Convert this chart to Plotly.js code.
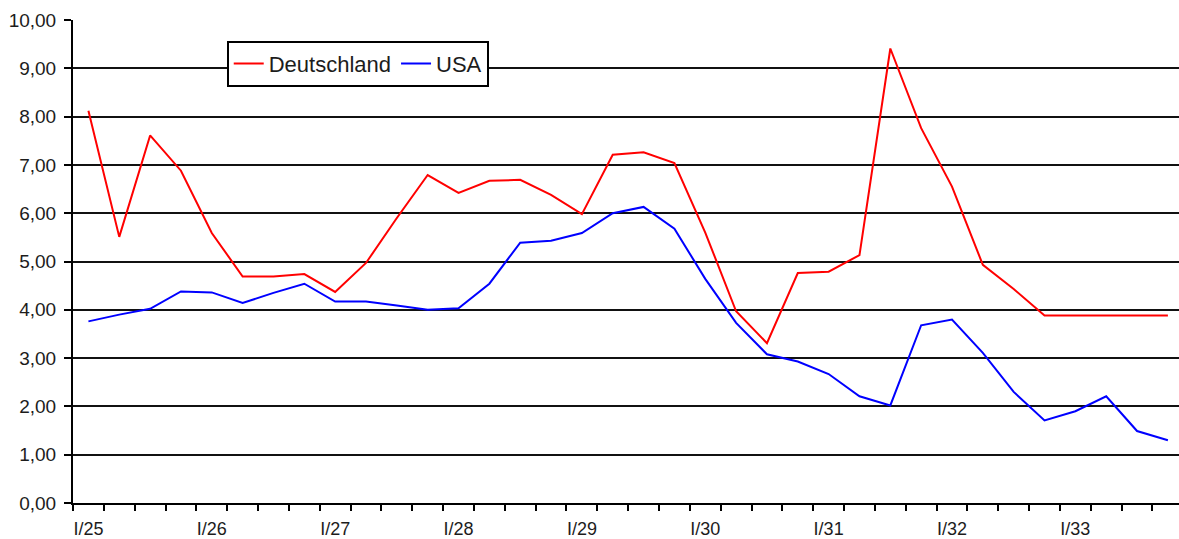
<!DOCTYPE html>
<html>
<head>
<meta charset="utf-8">
<script src="https://cdn.plot.ly/plotly-3.0.1.min.js"></script>
<style>
html,body{margin:0;padding:0;background:#fff;overflow:hidden;}
#chart{width:1179px;height:539px;}
</style>
</head>
<body>
<div id="chart"></div>
<script>
const quarters = [
  "I/25","II/25","III/25","IV/25",
  "I/26","II/26","III/26","IV/26",
  "I/27","II/27","III/27","IV/27",
  "I/28","II/28","III/28","IV/28",
  "I/29","II/29","III/29","IV/29",
  "I/30","II/30","III/30","IV/30",
  "I/31","II/31","III/31","IV/31",
  "I/32","II/32","III/32","IV/32",
  "I/33","II/33","III/33","IV/33"
];
const deutschland = [8.12, 5.51, 7.61, 6.88, 5.59, 4.69, 4.69, 4.74, 4.37, 4.97, 5.90, 6.79,
                     6.42, 6.67, 6.69, 6.38, 5.98, 7.21, 7.26, 7.04, 5.60, 3.97, 3.31, 4.76,
                     4.79, 5.13, 9.41, 7.76, 6.55, 4.93, 4.43, 3.88, 3.88, 3.88, 3.88, 3.88];
const usa = [3.76, 3.90, 4.02, 4.38, 4.36, 4.14, 4.35, 4.54, 4.17, 4.17, 4.09, 4.00,
             4.03, 4.54, 5.39, 5.43, 5.59, 6.00, 6.13, 5.68, 4.64, 3.73, 3.08, 2.93,
             2.67, 2.21, 2.02, 3.68, 3.80, 3.11, 2.30, 1.71, 1.90, 2.21, 1.49, 1.30];
const seriesNames = ["Deutschland", "USA"];
const yTicks = [0,1,2,3,4,5,6,7,8,9,10];

const idx = quarters.map((q, i) => i);
const labelIdx = idx.filter(i => quarters[i].startsWith("I/"));
const labelText = labelIdx.map(i => quarters[i]);
const boundaries = quarters.map((q, i) => i - 0.5);

const FONT = '"Liberation Sans", Arial, sans-serif';
const TXT = '#1c1c1c';

const traces = [
  {x: idx, y: deutschland, name: seriesNames[0], type: 'scatter', mode: 'lines',
   line: {color: '#ff0000', width: 2}, text: quarters, hoverinfo: 'text+y'},
  {x: idx, y: usa, name: seriesNames[1], type: 'scatter', mode: 'lines',
   line: {color: '#0000ff', width: 2}, text: quarters, hoverinfo: 'text+y'},
  {x: idx, y: usa, xaxis: 'x2', type: 'scatter', mode: 'lines',
   line: {color: 'rgba(0,0,0,0)', width: 0}, showlegend: false, hoverinfo: 'skip'}
];

const layout = {
  width: 1179, height: 539,
  margin: {l: 73, r: 0, t: 20, b: 36},
  paper_bgcolor: '#fff', plot_bgcolor: '#fff',
  separators: ',.',
  font: {family: FONT, color: TXT, size: 18},
  showlegend: true,
  legend: {
    orientation: 'h', x: 0.139, y: 0.957, xanchor: 'left', yanchor: 'top',
    bgcolor: '#fff', bordercolor: '#000', borderwidth: 2,
    font: {family: FONT, size: 22, color: TXT}
  },
  xaxis: {
    range: [-0.5, 35.36],
    tickmode: 'array', tickvals: boundaries, ticktext: boundaries.map(() => ''),
    ticks: 'outside', ticklen: 6, tickwidth: 2, tickcolor: '#000',
    showline: true, linecolor: '#000', linewidth: 2,
    showgrid: false, zeroline: false, fixedrange: true
  },
  xaxis2: {
    overlaying: 'x', matches: 'x', anchor: 'y', side: 'bottom',
    tickmode: 'array', tickvals: labelIdx, ticktext: labelText,
    ticks: '', showline: false, showgrid: false, zeroline: false,
    tickfont: {family: FONT, size: 18, color: TXT},
    ticklabelstandoff: 13
  },
  yaxis: {
    range: [0, 10],
    tickmode: 'array', tickvals: yTicks,
    tickformat: '.2f',
    showgrid: true, gridcolor: '#111', gridwidth: 2,
    showline: true, linecolor: '#000', linewidth: 2,
    ticks: 'outside', ticklen: 7, tickwidth: 2, tickcolor: '#000',
    zeroline: false, fixedrange: true,
    ticklabelstandoff: 4,
    tickfont: {family: FONT, size: 19, color: TXT}
  }
};

Plotly.newPlot('chart', traces, layout, {displayModeBar: false, staticPlot: true});
</script>
</body>
</html>
